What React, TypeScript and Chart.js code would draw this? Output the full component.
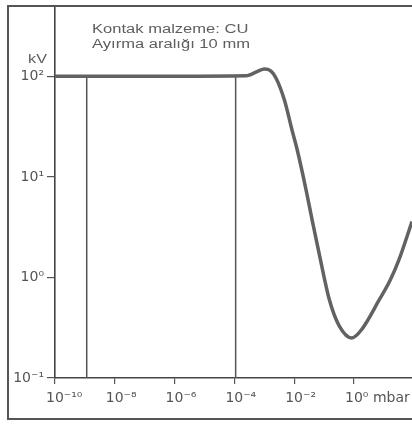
import React, { useEffect, useRef } from "react";
import { Chart, registerables } from "chart.js";

Chart.register(...registerables);

// Pressure (mbar) and breakdown voltage (kV)
const pressure = [1e-10, 1e-6, 2.5e-4, 3.2e-4, 5.9e-4, 1e-3, 1.6e-3, 2.5e-3, 4.7e-3, 8.5e-3, 1.26e-2, 2.5e-2, 4e-2, 7.2e-2, 0.15, 0.32, 0.85, 1.9, 6.8, 16, 32, 87];
const voltage = [100, 100, 101, 103, 112, 118, 114, 95, 58, 29, 18.6, 7.4, 3.7, 1.6, 0.6, 0.33, 0.25, 0.31, 0.59, 0.93, 1.5, 3.6];

// vertical marker lines
const markerPressures = [1.15e-9, 1.1e-4];
const markerTop = 100;
const markerBottom = 0.1;

const xTicks = [1e-10, 1e-8, 1e-6, 1e-4, 1e-2, 1];
const xTickLabels = ["10⁻¹⁰", "10⁻⁸", "10⁻⁶", "10⁻⁴", "10⁻²", "10⁰ mbar"];
const yTicks = [0.1, 1, 10, 100];
const yTickLabels = ["10⁻¹", "10⁰", "10¹", "10²"];

const noteLines = ["Kontak malzeme: CU", "Ayırma aralığı 10 mm"];
const yUnit = "kV";

const decorPlugin = {
  id: "decor",
  beforeDraw(chart: any) {
    const ctx = chart.ctx;
    ctx.save();
    ctx.fillStyle = "#ffffff";
    ctx.fillRect(0, 0, chart.width, chart.height);
    ctx.restore();
  },
  afterDraw(chart: any) {
    const ctx = chart.ctx;
    const y = chart.scales.y;
    ctx.save();
    ctx.fillStyle = "#555";
    // frame: top, left, bottom
    ctx.fillRect(7, 5, chart.width - 7, 2);
    ctx.fillRect(7, 5, 2, 415);
    ctx.fillRect(7, 418, chart.width - 7, 2);

    ctx.fillStyle = "#5e5e5e";
    ctx.font = '12px "Liberation Sans", Arial, sans-serif';
    ctx.textBaseline = "alphabetic";
    ctx.textAlign = "left";
    noteLines.forEach((t, i) => {
      ctx.save();
      ctx.translate(92, 33 + i * 15);
      ctx.scale(1.38, 1);
      ctx.fillText(t, 0, 0);
      ctx.restore();
    });
    ctx.save();
    ctx.textAlign = "right";
    ctx.translate(47, y.getPixelForValue(100) - 13);
    ctx.scale(1.35, 1);
    ctx.fillText(yUnit, 0, 0);
    ctx.restore();
    ctx.restore();
  },
};

export default function App() {
  const ref = useRef<HTMLCanvasElement | null>(null);
  useEffect(() => {
    if (!ref.current) return;
    const curve = pressure.map((p, i) => ({ x: p, y: voltage[i] }));
    const markers = markerPressures.map((p) => ({
      label: "marker",
      data: [
        { x: p, y: markerBottom },
        { x: p, y: markerTop },
      ],
      borderColor: "#555",
      borderWidth: 1.5,
      pointRadius: 0,
      tension: 0,
    }));
    const tickFont = { family: "'DejaVu Sans', sans-serif", size: 14 };
    const chart = new Chart(ref.current, {
      type: "line",
      data: {
        datasets: [
          {
            label: "U",
            data: curve,
            borderColor: "#626262",
            borderWidth: 3.5,
            pointRadius: 0,
            cubicInterpolationMode: "monotone",
          },
          ...markers,
        ] as any,
      },
      options: {
        animation: false,
        responsive: false,
        layout: { padding: { left: 0, right: 0, top: 6, bottom: 0 }, autoPadding: false } as any,
        plugins: { legend: { display: false }, tooltip: { enabled: false } },
        scales: {
          x: {
            type: "logarithmic",
            min: 1e-10,
            max: 87,
            afterBuildTicks: (s: any) => {
              s.ticks = xTicks.map((v) => ({ value: v }));
            },
            afterFit: (s: any) => {
              s.height = 49;
              s.paddingLeft = 0;
              s.paddingRight = 0;
            },
            ticks: {
              callback: (_v: any, i: number) => xTickLabels[i],
              color: "#555",
              font: tickFont,
              align: "start",
              labelOffset: -9,
              padding: 6,
              maxRotation: 0,
              autoSkip: false,
            },
            grid: { drawOnChartArea: false, drawTicks: true, tickLength: 6, color: "#555", lineWidth: 1.2 },
            border: { display: true, color: "#444", width: 1.6 },
          },
          y: {
            type: "logarithmic",
            min: 0.1,
            max: 500,
            afterBuildTicks: (s: any) => {
              s.ticks = yTicks.map((v) => ({ value: v }));
            },
            afterFit: (s: any) => {
              s.width = 55;
              s.paddingTop = 0;
              s.paddingBottom = 0;
            },
            ticks: {
              callback: (_v: any, i: number) => yTickLabels[i],
              color: "#555",
              font: tickFont,
              padding: 3,
              autoSkip: false,
            },
            grid: { drawOnChartArea: false, drawTicks: true, tickLength: 8, color: "#555", lineWidth: 1.2 },
            border: { display: true, color: "#444", width: 1.6 },
          },
        },
      } as any,
      plugins: [decorPlugin],
    });
    return () => chart.destroy();
  }, []);
  return (
    <div style={{ position: "fixed", left: 0, top: 0, width: 412, height: 427, background: "#fff" }}>
      <canvas ref={ref} width={412} height={427} style={{ display: "block" }} />
    </div>
  );
}
